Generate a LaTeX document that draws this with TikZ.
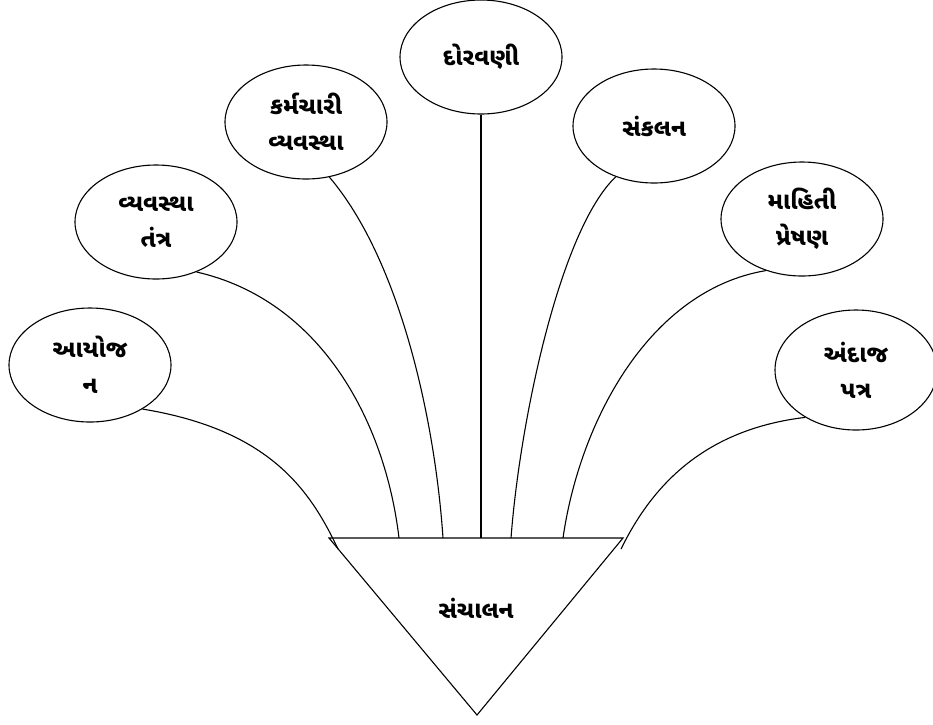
\documentclass[tikz,border=0pt]{standalone}
\usepackage{fontspec}
\newfontfamily\guj[Script=Gujarati]{Noto Sans Gujarati UI}
\usetikzlibrary{shapes.geometric}
\begin{document}
\begin{tikzpicture}[x=1pt,y=-1pt,
  bub/.style={draw,ellipse,line width=1.1pt,minimum width=162pt,minimum height=114pt,inner sep=0pt,align=center,font=\guj\bfseries\fontsize{24}{36}\selectfont},
  link/.style={line width=1.1pt}]
\useasboundingbox (0,0) rectangle (933,724);
\node[bub] (n1) at (90,365) {આયોજ\\ન};
\node[bub] (n2) at (156,222) {વ્યવસ્થા\\તંત્ર};
\node[bub] (n3) at (306,122) {કર્મચારી\\વ્યવસ્થા};
\node[bub] (n4) at (481,57) {દોરવણી};
\node[bub] (n5) at (654,126) {સંકલન};
\node[bub] (n6) at (802,219) {માહિતી\\પ્રેષણ};
\node[bub,minimum height=120pt] (n7) at (856,370) {અંદાજ\\પત્ર};
\coordinate (T1) at (329,538);
\coordinate (T2) at (623,538);
\coordinate (T3) at (477,715);
\draw[line width=1.1pt] (T1) -- (T2) -- (T3) -- cycle;
\node[font=\guj\bfseries\fontsize{24}{28}\selectfont] (c) at (476,608) {સંચાલન};
\coordinate (e1) at (338,549);
\coordinate (e2) at (399,538);
\coordinate (e3) at (443,538);
\coordinate (e5) at (511,538);
\coordinate (e6) at (563,538);
\coordinate (e7) at (621,549);
\draw[link] (n1.-40) .. controls (270,430) and (310,490) .. (e1);
\draw[link] (n2.-51) .. controls (320,300) and (385,420) .. (e2);
\draw[link] (n3.-67) .. controls (400,260) and (435,420) .. (e3);
\draw[link] (n4.south) -- (n4.south |- T1);
\draw[link] (n5.-127) .. controls (560,230) and (520,420) .. (e5);
\draw[link] (n6.-125) .. controls (650,290) and (580,420) .. (e6);
\draw[link] (n7.-137) .. controls (700,430) and (650,490) .. (e7);
\end{tikzpicture}
\end{document}
